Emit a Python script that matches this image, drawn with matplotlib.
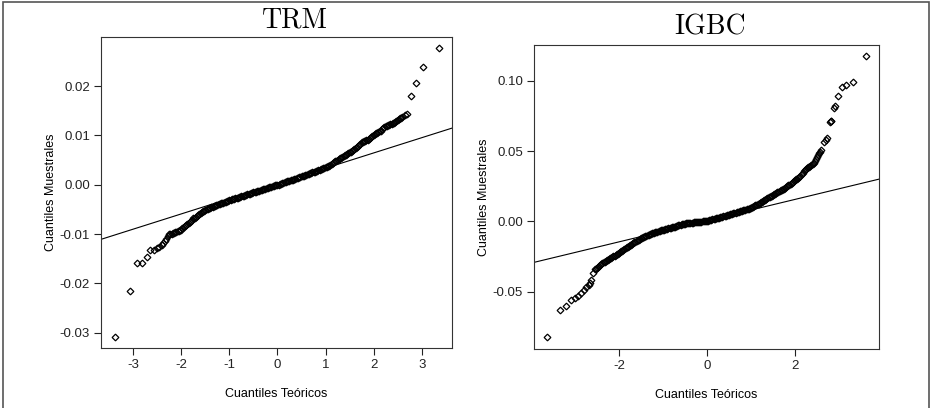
import matplotlib
matplotlib.use("Agg")
import matplotlib.pyplot as plt
from matplotlib.patches import Rectangle

plt.rcParams['font.family'] = ['Liberation Sans', 'DejaVu Sans']

# ---- TRM: theoretical vs sample quantiles ----
trm_low_x = [-3.38, -3.07, -2.92, -2.81, -2.72, -2.65, -2.57, -2.51, -2.46, -2.41, -2.38, -2.34, -2.31, -2.28]
trm_low_y = [-0.0308, -0.0215, -0.0159, -0.0159, -0.0146, -0.0133, -0.0132, -0.0128, -0.0126, -0.0123,
             -0.0119, -0.0114, -0.0109, -0.0104]
trm_mid_x = [-2.250, -2.225, -2.200, -2.175, -2.150, -2.125, -2.100, -2.075, -2.050, -2.025,
             -2.000, -1.975, -1.950, -1.925, -1.900, -1.875, -1.850, -1.825, -1.800, -1.775,
             -1.750, -1.725, -1.700, -1.675, -1.650, -1.625, -1.600, -1.575, -1.550, -1.525,
             -1.500, -1.475, -1.450, -1.425, -1.400, -1.375, -1.350, -1.325, -1.300, -1.275,
             -1.250, -1.225, -1.200, -1.175, -1.150, -1.125, -1.100, -1.075, -1.050, -1.025,
             -1.000, -0.975, -0.950, -0.925, -0.900, -0.875, -0.850, -0.825, -0.800, -0.775,
             -0.750, -0.725, -0.700, -0.675, -0.650, -0.625, -0.600, -0.575, -0.550, -0.525,
             -0.500, -0.475, -0.450, -0.425, -0.400, -0.375, -0.350, -0.325, -0.300, -0.275,
             -0.250, -0.225, -0.200, -0.175, -0.150, -0.125, -0.100, -0.075, -0.050, -0.025,
             0.000, 0.025, 0.050, 0.075, 0.100, 0.125, 0.150, 0.175, 0.200, 0.225,
             0.250, 0.275, 0.300, 0.325, 0.350, 0.375, 0.400, 0.425, 0.450, 0.475,
             0.500, 0.525, 0.550, 0.575, 0.600, 0.625, 0.650, 0.675, 0.700, 0.725,
             0.750, 0.775, 0.800, 0.825, 0.850, 0.875, 0.900, 0.925, 0.950, 0.975,
             1.000, 1.025, 1.050, 1.075, 1.100, 1.125, 1.150, 1.175, 1.200, 1.225,
             1.250, 1.275, 1.300, 1.325, 1.350, 1.375, 1.400, 1.425, 1.450, 1.475,
             1.500, 1.525, 1.550, 1.575, 1.600, 1.625, 1.650, 1.675, 1.700, 1.725,
             1.750, 1.775, 1.800, 1.825, 1.850, 1.875, 1.900, 1.925, 1.950, 1.975,
             2.000, 2.025, 2.050, 2.075, 2.100, 2.125, 2.150, 2.175, 2.200, 2.225,
             2.250, 2.275, 2.300, 2.325, 2.350, 2.375, 2.400, 2.425, 2.450, 2.475,
             2.500, 2.525, 2.550, 2.575, 2.600]
trm_mid_y = [-0.0100, -0.0100, -0.0099, -0.0098, -0.0097, -0.0096, -0.0095, -0.0094, -0.0093, -0.0092,
             -0.0091, -0.0088, -0.0086, -0.0084, -0.0082, -0.0080, -0.0077, -0.0075, -0.0073, -0.0071,
             -0.0068, -0.0067, -0.0065, -0.0063, -0.0061, -0.0060, -0.0058, -0.0056, -0.0054, -0.0053,
             -0.0051, -0.0050, -0.0049, -0.0048, -0.0047, -0.0046, -0.0045, -0.0044, -0.0043, -0.0042,
             -0.0041, -0.0040, -0.0039, -0.0038, -0.0037, -0.0036, -0.0035, -0.0034, -0.0033, -0.0032,
             -0.0031, -0.0030, -0.0029, -0.0029, -0.0028, -0.0027, -0.0026, -0.0026, -0.0025, -0.0024,
             -0.0023, -0.0023, -0.0022, -0.0021, -0.0020, -0.0019, -0.0018, -0.0018, -0.0017, -0.0016,
             -0.0015, -0.0015, -0.0014, -0.0013, -0.0012, -0.0012, -0.0011, -0.0010, -0.0009, -0.0009,
             -0.0008, -0.0007, -0.0006, -0.0005, -0.0004, -0.0004, -0.0003, -0.0002, -0.0001, -0.0001,
             0.0000, 0.0000, 0.0001, 0.0002, 0.0003, 0.0004, 0.0005, 0.0006, 0.0007, 0.0007,
             0.0008, 0.0009, 0.0010, 0.0010, 0.0011, 0.0012, 0.0013, 0.0014, 0.0015, 0.0016,
             0.0017, 0.0017, 0.0018, 0.0019, 0.0020, 0.0021, 0.0022, 0.0023, 0.0024, 0.0025,
             0.0026, 0.0026, 0.0027, 0.0028, 0.0029, 0.0030, 0.0031, 0.0032, 0.0033, 0.0034,
             0.0035, 0.0036, 0.0038, 0.0039, 0.0041, 0.0042, 0.0044, 0.0046, 0.0048, 0.0049,
             0.0051, 0.0052, 0.0054, 0.0055, 0.0057, 0.0058, 0.0060, 0.0061, 0.0063, 0.0064,
             0.0066, 0.0067, 0.0069, 0.0070, 0.0072, 0.0074, 0.0076, 0.0078, 0.0080, 0.0083,
             0.0086, 0.0087, 0.0089, 0.0089, 0.0090, 0.0091, 0.0092, 0.0094, 0.0097, 0.0099,
             0.0101, 0.0102, 0.0104, 0.0105, 0.0107, 0.0108, 0.0110, 0.0113, 0.0115, 0.0117,
             0.0119, 0.0120, 0.0121, 0.0122, 0.0123, 0.0124, 0.0125, 0.0126, 0.0128, 0.0129,
             0.0131, 0.0133, 0.0135, 0.0136, 0.0138]
trm_high_x = [2.65, 2.70, 2.78, 2.88, 3.03, 3.35]
trm_high_y = [0.0141, 0.0143, 0.0180, 0.0206, 0.0238, 0.0278]
trm_line = (0.00027, 0.00309)  # intercept, slope of the reference line

# ---- IGBC ----
igbc_low_x = [-3.64, -3.35, -3.20, -3.09, -2.99, -2.93, -2.87, -2.80, -2.75, -2.69, -2.66, -2.63, -2.60]
igbc_low_y = [-0.0822, -0.0632, -0.0603, -0.0560, -0.0544, -0.0533, -0.0513, -0.0489, -0.0470, -0.0454,
              -0.0440, -0.0418, -0.0370]
igbc_mid_x = [-2.550, -2.525, -2.500, -2.475, -2.450, -2.425, -2.400, -2.375, -2.350, -2.325,
              -2.300, -2.275, -2.250, -2.225, -2.200, -2.175, -2.150, -2.125, -2.100, -2.075,
              -2.050, -2.025, -2.000, -1.975, -1.950, -1.925, -1.900, -1.875, -1.850, -1.825,
              -1.800, -1.775, -1.750, -1.725, -1.700, -1.675, -1.650, -1.625, -1.600, -1.575,
              -1.550, -1.525, -1.500, -1.475, -1.450, -1.425, -1.400, -1.375, -1.350, -1.325,
              -1.300, -1.275, -1.250, -1.225, -1.200, -1.175, -1.150, -1.125, -1.100, -1.075,
              -1.050, -1.025, -1.000, -0.975, -0.950, -0.925, -0.900, -0.875, -0.850, -0.825,
              -0.800, -0.775, -0.750, -0.725, -0.700, -0.675, -0.650, -0.625, -0.600, -0.575,
              -0.550, -0.525, -0.500, -0.475, -0.450, -0.425, -0.400, -0.375, -0.350, -0.325,
              -0.300, -0.275, -0.250, -0.225, -0.200, -0.175, -0.150, -0.125, -0.100, -0.075,
              -0.050, -0.025, 0.000, 0.025, 0.050, 0.075, 0.100, 0.125, 0.150, 0.175,
              0.200, 0.225, 0.250, 0.275, 0.300, 0.325, 0.350, 0.375, 0.400, 0.425,
              0.450, 0.475, 0.500, 0.525, 0.550, 0.575, 0.600, 0.625, 0.650, 0.675,
              0.700, 0.725, 0.750, 0.775, 0.800, 0.825, 0.850, 0.875, 0.900, 0.925,
              0.950, 0.975, 1.000, 1.025, 1.050, 1.075, 1.100, 1.125, 1.150, 1.175,
              1.200, 1.225, 1.250, 1.275, 1.300, 1.325, 1.350, 1.375, 1.400, 1.425,
              1.450, 1.475, 1.500, 1.525, 1.550, 1.575, 1.600, 1.625, 1.650, 1.675,
              1.700, 1.725, 1.750, 1.775, 1.800, 1.825, 1.850, 1.875, 1.900, 1.925,
              1.950, 1.975, 2.000, 2.025, 2.050, 2.075, 2.100, 2.125, 2.150, 2.175,
              2.200, 2.225, 2.250, 2.275, 2.300, 2.325, 2.350, 2.375, 2.400, 2.425,
              2.450, 2.475, 2.500, 2.525, 2.550, 2.575, 2.600]
igbc_mid_y = [-0.0342, -0.0336, -0.0330, -0.0323, -0.0317, -0.0310, -0.0304, -0.0298, -0.0292, -0.0286,
              -0.0281, -0.0276, -0.0272, -0.0267, -0.0263, -0.0258, -0.0253, -0.0249, -0.0244, -0.0240,
              -0.0235, -0.0230, -0.0225, -0.0220, -0.0214, -0.0208, -0.0202, -0.0197, -0.0191, -0.0186,
              -0.0180, -0.0175, -0.0170, -0.0165, -0.0160, -0.0155, -0.0150, -0.0145, -0.0140, -0.0135,
              -0.0130, -0.0126, -0.0121, -0.0117, -0.0112, -0.0109, -0.0105, -0.0101, -0.0098, -0.0095,
              -0.0092, -0.0089, -0.0086, -0.0084, -0.0081, -0.0078, -0.0076, -0.0073, -0.0070, -0.0068,
              -0.0065, -0.0063, -0.0060, -0.0058, -0.0056, -0.0053, -0.0051, -0.0049, -0.0047, -0.0045,
              -0.0043, -0.0041, -0.0039, -0.0037, -0.0035, -0.0032, -0.0029, -0.0026, -0.0023, -0.0021,
              -0.0018, -0.0017, -0.0016, -0.0015, -0.0014, -0.0013, -0.0012, -0.0011, -0.0010, -0.0009,
              -0.0008, -0.0007, -0.0006, -0.0005, -0.0004, -0.0003, -0.0002, -0.0001, 0.0000, 0.0001,
              0.0002, 0.0003, 0.0004, 0.0006, 0.0008, 0.0010, 0.0012, 0.0015, 0.0017, 0.0019,
              0.0021, 0.0022, 0.0024, 0.0026, 0.0028, 0.0030, 0.0032, 0.0035, 0.0037, 0.0040,
              0.0042, 0.0045, 0.0047, 0.0050, 0.0052, 0.0055, 0.0057, 0.0060, 0.0062, 0.0064,
              0.0066, 0.0069, 0.0071, 0.0074, 0.0076, 0.0079, 0.0081, 0.0084, 0.0086, 0.0089,
              0.0091, 0.0094, 0.0096, 0.0100, 0.0104, 0.0109, 0.0113, 0.0118, 0.0122, 0.0127,
              0.0131, 0.0136, 0.0140, 0.0145, 0.0149, 0.0154, 0.0158, 0.0164, 0.0170, 0.0175,
              0.0179, 0.0184, 0.0188, 0.0193, 0.0197, 0.0202, 0.0206, 0.0211, 0.0215, 0.0220,
              0.0224, 0.0229, 0.0234, 0.0239, 0.0244, 0.0250, 0.0256, 0.0262, 0.0268, 0.0275,
              0.0281, 0.0288, 0.0294, 0.0300, 0.0305, 0.0311, 0.0317, 0.0326, 0.0335, 0.0347,
              0.0358, 0.0366, 0.0374, 0.0380, 0.0385, 0.0390, 0.0395, 0.0400, 0.0405, 0.0418,
              0.0430, 0.0445, 0.0460, 0.0473, 0.0485, 0.0495, 0.0505]
igbc_high_x = [2.67, 2.70, 2.73, 2.79, 2.81, 2.83, 2.89, 2.92, 2.98, 3.07, 3.17, 3.31, 3.61]
igbc_high_y = [0.0567, 0.0580, 0.0591, 0.0709, 0.0712, 0.0715, 0.0805, 0.0820, 0.0894, 0.0954,
               0.0970, 0.0994, 0.1177]
igbc_line = (0.00051, 0.00756)

fig = plt.figure(figsize=(9.32, 4.08), dpi=100)

# outer frame (its bottom edge falls off the picture)
fig.patches.append(Rectangle((3 / 932, -0.05), 926 / 932, 1.05 - 2.5 / 408, transform=fig.transFigure,
                             fill=False, edgecolor='#555555', linewidth=1.2))


def qq_panel(rect, xs, ys, line, xlim, ylim, xticks, yticks):
    ax = fig.add_axes(rect)
    # hollow diamonds, so overlapping ones build a solid band
    ax.plot(xs, ys, linestyle='none', marker='D', markersize=3.4, markerfacecolor='none',
            markeredgecolor='black', markeredgewidth=0.9)
    ax.axline((0, line[0]), slope=line[1], color='black', linewidth=0.8)
    ax.set_xlim(*xlim)
    ax.set_ylim(*ylim)
    ax.set_xticks(xticks)
    ax.set_xticklabels([str(t) for t in xticks])
    ax.set_yticks(yticks)
    ax.set_yticklabels(['{:.2f}'.format(t) for t in yticks])
    ax.tick_params(labelsize=9.5, length=5, width=0.8, pad=3, colors='#222222')
    for s in ax.spines.values():
        s.set_linewidth(0.8)
        s.set_color('#333333')
    ax.set_xlabel('Cuantiles Teóricos', fontsize=9, labelpad=12)
    ax.set_ylabel('Cuantiles Muestrales', fontsize=9, labelpad=2)
    return ax


qq_panel([101 / 932, 1 - 348 / 408, 351 / 932, 311 / 408],
         trm_low_x + trm_mid_x + trm_high_x, trm_low_y + trm_mid_y + trm_high_y, trm_line,
         (-3.67, 3.63), (-0.0331, 0.02996), [-3, -2, -1, 0, 1, 2, 3],
         [-0.03, -0.02, -0.01, 0.00, 0.01, 0.02])
qq_panel([534 / 932, 1 - 349 / 408, 345 / 932, 304 / 408],
         igbc_low_x + igbc_mid_x + igbc_high_x, igbc_low_y + igbc_mid_y + igbc_high_y, igbc_line,
         (-3.93, 3.91), (-0.0909, 0.1256), [-2, 0, 2],
         [-0.05, 0.00, 0.05, 0.10])

fig.text(295 / 932, 1 - 20 / 408, 'TRM', fontsize=20, family='cmr10', ha='center', va='center')
fig.text(710 / 932, 1 - 27 / 408, 'IGBC', fontsize=20, family='cmr10', ha='center', va='center')

fig.savefig('out.png', dpi=100)
